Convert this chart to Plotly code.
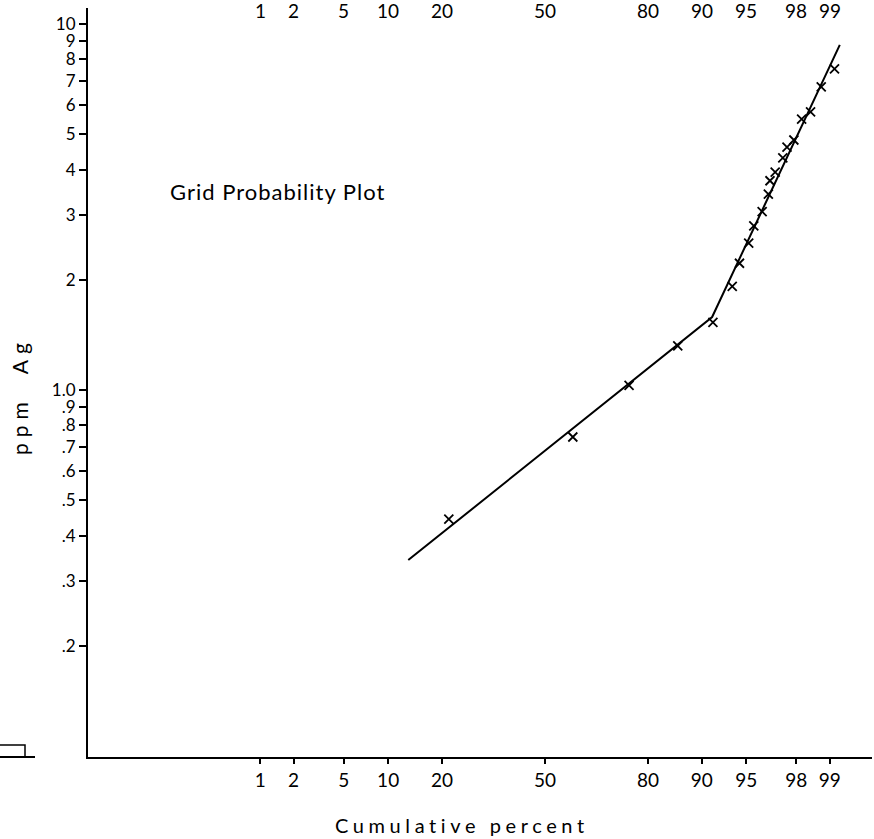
import statistics
import plotly.graph_objects as go

# ---- data ----
cum_pct = [21.6, 59.0, 75.4, 86.1, 91.5, 93.7, 94.4, 95.2, 95.6, 96.2,
           96.6, 96.7, 97.0, 97.4, 97.6, 97.9, 98.2, 98.5, 98.8, 99.1]
ppm_ag = [0.444, 0.744, 1.03, 1.32, 1.53, 1.92, 2.22, 2.52, 2.81, 3.07,
          3.43, 3.73, 3.94, 4.31, 4.61, 4.82, 5.50, 5.75, 6.73, 7.54]

fit_pct = [13.2, 91.4, 99.2]
fit_ppm = [0.343, 1.583, 8.77]

x_tick_pct = [1, 2, 5, 10, 20, 50, 80, 90, 95, 98, 99]
x_tick_text = ["1", "2", "5", "10", "20", "50", "80", "90", "95", "98", "99"]
y_tick_vals = [10, 9, 8, 7, 6, 5, 4, 3, 2, 1.0, 0.9, 0.8, 0.7, 0.6, 0.5, 0.4, 0.3, 0.2]
y_tick_text = ["10", "9", "8", "7", "6", "5", "4", "3", "2", "1.0",
               ".9", ".8", ".7", ".6", ".5", ".4", ".3", ".2"]

nd = statistics.NormalDist()


def probit(p):
    return nd.inv_cdf(p / 100.0)


FONT = "Lato"
W, H = 874, 839
L, R, T, B = 88, 2, 8, 82
PW, PH = W - L - R, H - T - B


def px(xp):
    return (xp - L) / PW


def py(yp):
    return (H - B - yp) / PH


def spaced(text, sp):
    return f'<span style="letter-spacing:{sp}px">{text}</span>'


fig = go.Figure()
fig.add_trace(go.Scatter(
    x=[probit(p) for p in fit_pct], y=fit_ppm, mode="lines",
    line=dict(color="black", width=2), showlegend=False, hoverinfo="skip"))
fig.add_trace(go.Scatter(
    x=[probit(p) for p in cum_pct], y=ppm_ag, mode="markers",
    marker=dict(symbol="x-thin", size=9, line=dict(color="black", width=1.8), color="black"),
    showlegend=False))

annotations = []
# top tick labels (repeated percent scale)
for p, t in zip(x_tick_pct, x_tick_text):
    annotations.append(dict(x=probit(p), xref="x", y=py(10), yref="paper",
                            text=t, showarrow=False, xanchor="center", yanchor="middle",
                            font=dict(family=FONT, size=19, color="black")))
annotations.append(dict(x=px(168), y=py(191), xref="paper", yref="paper",
                        text=spaced("Grid Probability Plot", 1), showarrow=False,
                        xanchor="left", yanchor="middle",
                        font=dict(family=FONT, size=22, color="black")))
annotations.append(dict(x=px(19), y=py(396), xref="paper", yref="paper",
                        text=spaced("ppm  Ag", 6), showarrow=False, textangle=-90,
                        xanchor="center", yanchor="middle",
                        font=dict(family=FONT, size=21, color="black")))
annotations.append(dict(x=px(462), y=py(825), xref="paper", yref="paper",
                        text=spaced("Cumulative percent", 4.6), showarrow=False,
                        xanchor="center", yanchor="middle",
                        font=dict(family=FONT, size=20, color="black")))

shapes = [
    dict(type="line", xref="paper", yref="paper", x0=px(0), x1=px(35), y0=py(757), y1=py(757),
         line=dict(color="black", width=2)),
    dict(type="path", xref="paper", yref="paper",
         path=f"M {px(0)},{py(745)} L {px(25)},{py(745)} L {px(25)},{py(757)}",
         line=dict(color="black", width=1.5)),
]

fig.update_layout(
    width=W, height=H,
    margin=dict(l=L, r=R, t=T, b=B),
    paper_bgcolor="white", plot_bgcolor="white",
    font=dict(family=FONT, color="black"),
    annotations=annotations, shapes=shapes,
    xaxis=dict(range=[-3.734, 2.672], tickvals=[probit(p) for p in x_tick_pct],
               ticktext=x_tick_text, showgrid=False, zeroline=False,
               showline=True, linecolor="black", linewidth=2,
               ticks="outside", ticklen=5, tickwidth=1.5, tickcolor="black",
               tickfont=dict(family=FONT, size=19, color="black")),
    yaxis=dict(type="log", range=[-1.0027, 1.0437], tickvals=y_tick_vals,
               ticktext=y_tick_text, showgrid=False, zeroline=False,
               showline=True, linecolor="black", linewidth=2,
               ticks="outside", ticklen=7, tickwidth=1.5, tickcolor="black",
               tickfont=dict(family=FONT, size=17, color="black")),
)

fig.write_html("out.html", post_script="document.body.style.margin='0';",
               config={"displayModeBar": False})
